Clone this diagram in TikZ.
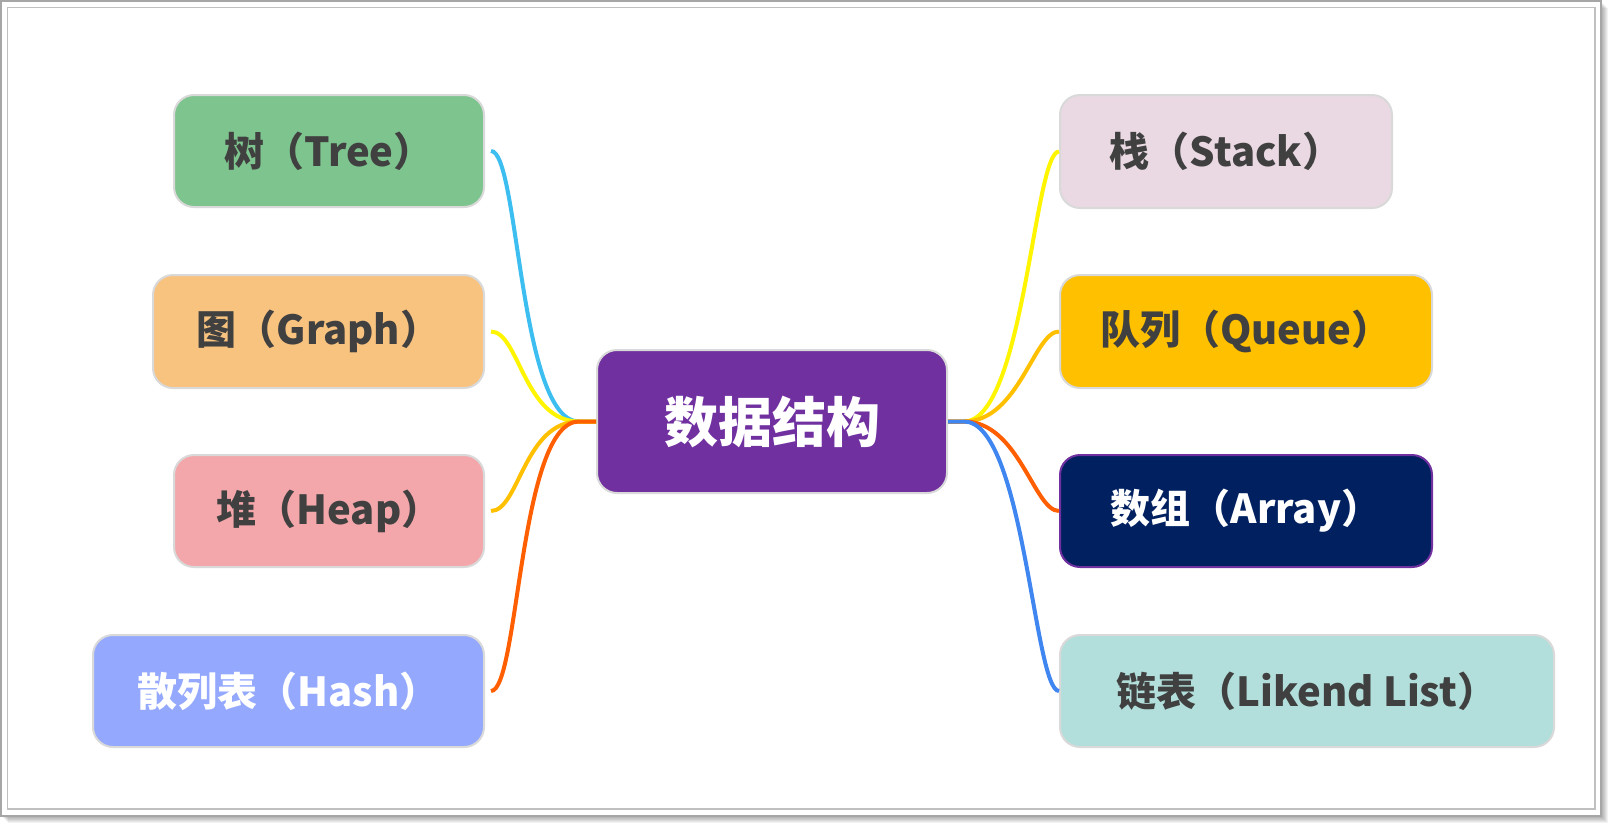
\documentclass[tikz,border=0pt]{standalone}
\usepackage{fontspec}
\setmainfont{Noto Sans CJK SC}
\definecolor{txt}{HTML}{404040}
\definecolor{boxline}{HTML}{D9D9D9}
\definecolor{treeC}{HTML}{7EC48E}
\definecolor{graphC}{HTML}{F8C27F}
\definecolor{heapC}{HTML}{F4A7AB}
\definecolor{hashC}{HTML}{94A9FE}
\definecolor{centerC}{HTML}{7030A0}
\definecolor{stackC}{HTML}{EAD9E3}
\definecolor{queueC}{HTML}{FFC000}
\definecolor{arrayC}{HTML}{002060}
\definecolor{listC}{HTML}{B2DFDB}
\definecolor{skyL}{HTML}{3CBEF0}
\definecolor{yelL}{HTML}{FFF500}
\definecolor{ambL}{HTML}{FFC000}
\definecolor{oraL}{HTML}{FF5F00}
\definecolor{bluL}{HTML}{3F86F0}
\definecolor{frameA}{HTML}{A6A6A6}
\definecolor{frameB}{HTML}{C0C0C0}
\begin{document}
\begin{tikzpicture}[x=1pt,y=-1pt,
  box/.style={draw=boxline, line width=2pt, rounded corners=20pt, inner sep=0pt,
    font=\bfseries\fontsize{40}{44}\selectfont, text=txt},
  conn/.style={line width=4pt}
]
\useasboundingbox (0,0) rectangle (1608,822);
\fill[white] (0,0) rectangle (1608,822);
% frame shadow
\foreach \k in {1,...,7}{
  \fill[black, opacity=0.05] (1+\k,1+\k) rectangle (1601+\k,816+\k);
}
\filldraw[fill=white, draw=frameA, line width=2pt] (1,1) rectangle (1601,816);
\draw[frameB, line width=1.5pt] (7.5,7.5) rectangle (1595,809);

% nodes
\node[box, fill=centerC, text=white, minimum width=350pt, minimum height=143pt,
  font=\bfseries\fontsize{54}{60}\selectfont] (center) at (772,421.5) {数据结构};

\node[box, fill=treeC, minimum width=310pt, minimum height=112pt] (tree) at (329,151) {树（Tree）};
\node[box, fill=graphC, minimum width=331pt, minimum height=113pt] (graph) at (318.5,331.5) {图（Graph）};
\node[box, fill=heapC, minimum width=310pt, minimum height=112pt] (heap) at (329,511) {堆（Heap）};
\node[box, fill=hashC, text=white, minimum width=391pt, minimum height=112pt] (hash) at (288.5,691) {散列表（Hash）};

\node[box, fill=stackC, minimum width=332pt, minimum height=113pt] (stack) at (1226,151.5) {栈（Stack）};
\node[box, fill=queueC, minimum width=372pt, minimum height=113pt] (queue) at (1246,331.5) {队列（Queue）};
\node[box, fill=arrayC, draw=centerC, text=white, minimum width=372pt, minimum height=112pt] (array) at (1246,511) {数组（Array）};
\node[box, fill=listC, minimum width=494pt, minimum height=112pt] (list) at (1307,691) {链表（Likend List）};

% left connectors
\draw[conn, skyL] (center.west) -- ++(-17,0) .. controls +(-60,0) and +(28,0) .. ([xshift=6pt]tree.east);
\draw[conn, yelL] (center.west) -- ++(-17,0) .. controls +(-55,0) and +(28,0) .. ([xshift=6pt]graph.east);
\draw[conn, ambL] (center.west) -- ++(-17,0) .. controls +(-55,0) and +(28,0) .. ([xshift=6pt]heap.east);
\draw[conn, oraL] (center.west) -- ++(-17,0) .. controls +(-60,0) and +(28,0) .. ([xshift=6pt]hash.east);

% right connectors
\draw[conn, yelL] (center.east) -- ++(16,0) .. controls +(60,0) and +(-25,0) .. (stack.west);
\draw[conn, ambL] (center.east) -- ++(16,0) .. controls +(55,0) and +(-25,0) .. (queue.west);
\draw[conn, oraL] (center.east) -- ++(16,0) .. controls +(55,0) and +(-25,0) .. (array.west);
\draw[conn, bluL] (center.east) -- ++(16,0) .. controls +(60,0) and +(-25,0) .. (list.west);
\end{tikzpicture}
\end{document}
